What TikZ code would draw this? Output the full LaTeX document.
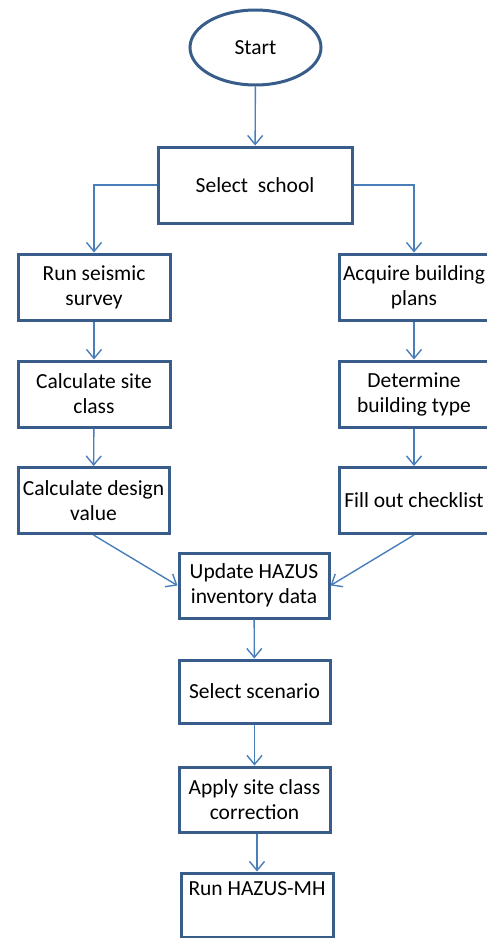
\documentclass[tikz,border=0pt]{standalone}
\usepackage{fontspec}
\setmainfont{Carlito}
\usetikzlibrary{shapes.geometric,arrows.meta}
\definecolor{boxblue}{RGB}{56,93,138}
\definecolor{linkblue}{RGB}{74,126,187}
\begin{document}
\begin{tikzpicture}[x=1pt,y=-1pt,
  stepbox/.style={draw=boxblue,line width=3pt,rectangle,align=center,
    minimum width=150pt,minimum height=66pt,inner sep=0pt,
    font=\fontsize{21.5}{25}\selectfont},
  link/.style={draw=linkblue,line width=1.4pt,
    -{Straight Barb[length=9pt,width=15pt,line width=1.4pt]}}]
\useasboundingbox (0,0) rectangle (487,938);

\node[draw=boxblue,line width=3pt,ellipse,minimum width=131pt,minimum height=75pt,
  font=\fontsize{21.5}{25}\selectfont] (start) at (255.5,47.5) {Start};
\node[stepbox,minimum width=194pt,minimum height=76pt] (school) at (255,185) {Select~ school};

\node[stepbox,minimum width=152pt] (survey) at (94,287) {Run seismic\\survey};
\node[stepbox,minimum width=152pt] (siteclass) at (94,394) {Calculate site\\class};
\node[stepbox,minimum width=151pt] (design) at (93.5,500.5) {Calculate design\\value};

\node[stepbox] (plans) at (414,287) {Acquire building\\plans};
\node[stepbox] (btype) at (414,394) {Determine\\building type};
\node[stepbox] (checklist) at (414,500.5) {Fill out checklist};

\node[stepbox,minimum height=65pt] (inventory) at (254,585.5) {Update HAZUS\\inventory data};
\node[stepbox,minimum width=151pt,minimum height=63pt] (scenario) at (254.5,691.5) {Select scenario};
\node[stepbox,minimum width=151pt,minimum height=65pt] (correction) at (254.5,799.5) {Apply site class\\correction};
\node[stepbox,minimum width=152pt,minimum height=64pt] (hazus) at (257,905) {Run HAZUS-MH\\\strut};

\draw[link] (start) -- (school);
\draw[link] (school.west) -| (survey.north);
\draw[link] (school.east) -| (plans.north);
\draw[link] (survey) -- (siteclass);
\draw[link] (siteclass) -- (design);
\draw[link] (plans) -- (btype);
\draw[link] (btype) -- (checklist);
\draw[link] (design.south) -- (inventory.west);
\draw[link] (checklist.south) -- (inventory.east);
\draw[link] (inventory) -- (scenario);
\draw[link] (scenario) -- (correction);
\draw[link] (correction.south -| 257,0) -- (hazus);
\end{tikzpicture}
\end{document}
